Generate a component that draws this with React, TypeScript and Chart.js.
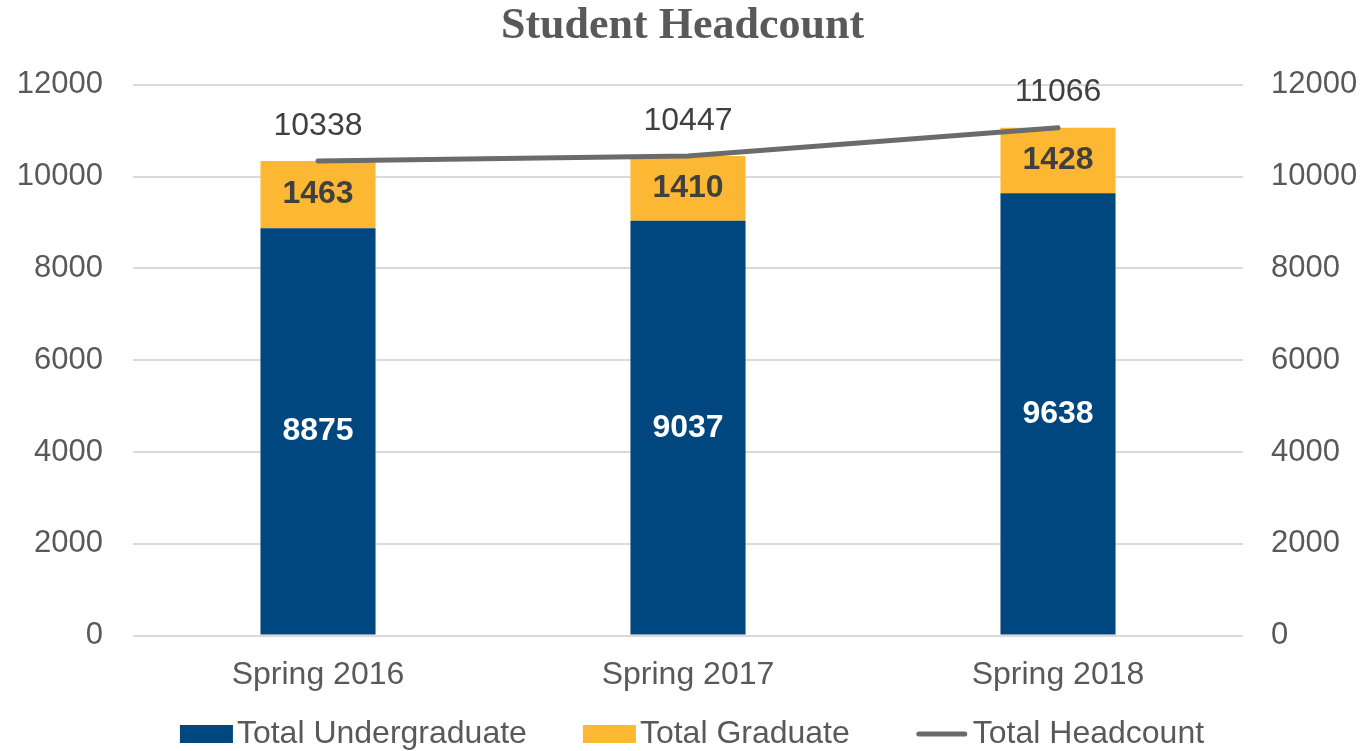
import React, { useEffect, useRef } from "react";
import { Chart, registerables } from "chart.js";

Chart.register(...registerables);

const categories = ["Spring 2016", "Spring 2017", "Spring 2018"];
const undergraduate = [8875, 9037, 9638];
const graduate = [1463, 1410, 1428];
const headcount = [10338, 10447, 11066];
const yTicks = [0, 2000, 4000, 6000, 8000, 10000, 12000];
const seriesNames = ["Total Undergraduate", "Total Graduate", "Total Headcount"];
const chartTitle = "Student Headcount";

const COLORS = {
  under: "#00467f",
  grad: "#fdb833",
  line: "#6b6b6b",
  tick: "#595959",
  label: "#404040",
  grid: "#dadada",
};
const SANS = "'Liberation Sans', Arial, sans-serif";

const valueLabels = {
  id: "valueLabels",
  afterDatasetsDraw(chart: any) {
    const ctx = chart.ctx;
    chart.data.datasets.forEach((ds: any, i: number) => {
      const meta = chart.getDatasetMeta(i);
      meta.data.forEach((el: any, j: number) => {
        const v = ds.data[j];
        ctx.save();
        ctx.textAlign = "center";
        ctx.textBaseline = "middle";
        if (ds.type === "line") {
          ctx.font = `32px ${SANS}`;
          ctx.fillStyle = COLORS.label;
          ctx.fillText(String(v), el.x, el.y - 35);
        } else {
          const p = el.getProps(["x", "y", "base"], true);
          ctx.font = `bold 32px ${SANS}`;
          ctx.fillStyle = i === 0 ? "#ffffff" : COLORS.label;
          ctx.fillText(String(v), p.x, (p.y + p.base) / 2);
        }
        ctx.restore();
      });
    });
  },
};

const bottomLegend = {
  id: "bottomLegend",
  afterDraw(chart: any) {
    const ctx = chart.ctx;
    ctx.save();
    ctx.font = `32px ${SANS}`;
    const boxW = 53;
    const boxH = 18;
    const textGap = 4;
    const itemGaps = [56, 66];
    const items = chart.data.datasets.map((ds: any) => ({
      text: ds.label,
      isLine: ds.type === "line",
      color: ds.type === "line" ? ds.borderColor : ds.backgroundColor,
    }));
    const widths = items.map((it: any) => boxW + textGap + ctx.measureText(it.text).width);
    const total = widths.reduce((a: number, b: number) => a + b, 0) + itemGaps.reduce((a, b) => a + b, 0);
    let x = (chart.chartArea.left + chart.chartArea.right) / 2 - total / 2 + 4;
    const y = chart.height - 17;
    items.forEach((it: any, k: number) => {
      if (it.isLine) {
        ctx.strokeStyle = it.color;
        ctx.lineWidth = 5;
        ctx.lineCap = "round";
        ctx.beginPath();
        ctx.moveTo(x + 3, y);
        ctx.lineTo(x + boxW - 4, y);
        ctx.stroke();
      } else {
        ctx.fillStyle = it.color;
        ctx.fillRect(x, y - boxH / 2, boxW, boxH);
      }
      ctx.fillStyle = COLORS.tick;
      ctx.textAlign = "left";
      ctx.textBaseline = "middle";
      ctx.fillText(it.text, x + boxW + textGap, y);
      x += widths[k] + (itemGaps[k] || 0);
    });
    ctx.restore();
  },
};

export default function App() {
  const ref = useRef<HTMLCanvasElement | null>(null);

  useEffect(() => {
    if (!ref.current) return;
    const chart = new Chart(ref.current, {
      type: "bar",
      data: {
        labels: categories,
        datasets: [
          {
            type: "bar",
            label: seriesNames[0],
            data: undergraduate,
            backgroundColor: COLORS.under,
            yAxisID: "y",
            order: 1,
            categoryPercentage: 1,
            barPercentage: 0.311,
          } as any,
          {
            type: "bar",
            label: seriesNames[1],
            data: graduate,
            backgroundColor: COLORS.grad,
            yAxisID: "y",
            order: 1,
            categoryPercentage: 1,
            barPercentage: 0.311,
          } as any,
          {
            type: "line",
            label: seriesNames[2],
            data: headcount,
            borderColor: COLORS.line,
            backgroundColor: COLORS.line,
            borderWidth: 5,
            borderCapStyle: "round",
            pointRadius: 0,
            tension: 0,
            yAxisID: "y1",
            order: 0,
          } as any,
        ],
      },
      options: {
        animation: false,
        responsive: false,
        layout: { padding: { left: 0, right: 0, top: 0, bottom: 37 } },
        plugins: {
          legend: { display: false },
          tooltip: { enabled: false },
          title: {
            display: true,
            text: chartTitle,
            color: COLORS.tick,
            font: { family: "'Liberation Serif', serif", size: 44, weight: "bold" },
            padding: { top: 0, bottom: 32 },
          },
        },
        scales: {
          x: {
            stacked: true,
            grid: { display: false, drawTicks: false },
            border: { display: false },
            ticks: { color: COLORS.tick, font: { family: SANS, size: 32 }, padding: 20 },
          },
          y: {
            stacked: true,
            position: "left",
            min: yTicks[0],
            max: yTicks[yTicks.length - 1],
            afterBuildTicks: (scale: any) => {
              scale.ticks = yTicks.map((v) => ({ value: v }));
            },
            afterFit: (scale: any) => {
              scale.width = 133;
            },
            grid: { color: COLORS.grid, lineWidth: 2, drawTicks: false },
            border: { display: false },
            ticks: {
              color: COLORS.tick,
              font: { family: SANS, size: 31 },
              padding: 30,
              callback: (v: any) => String(v),
            },
          },
          y1: {
            stacked: false,
            position: "right",
            min: yTicks[0],
            max: yTicks[yTicks.length - 1],
            afterBuildTicks: (scale: any) => {
              scale.ticks = yTicks.map((v) => ({ value: v }));
            },
            afterFit: (scale: any) => {
              scale.width = 122;
            },
            grid: { display: false, drawTicks: false },
            border: { display: false },
            ticks: {
              color: COLORS.tick,
              font: { family: SANS, size: 31 },
              padding: 28,
              callback: (v: any) => String(v),
            },
          },
        },
      } as any,
      plugins: [valueLabels, bottomLegend],
    });
    return () => chart.destroy();
  }, []);

  return (
    <div style={{ position: "fixed", left: 0, top: 0, width: 1365, height: 751, background: "#ffffff" }}>
      <canvas ref={ref} width={1365} height={751} style={{ display: "block" }} />
    </div>
  );
}
